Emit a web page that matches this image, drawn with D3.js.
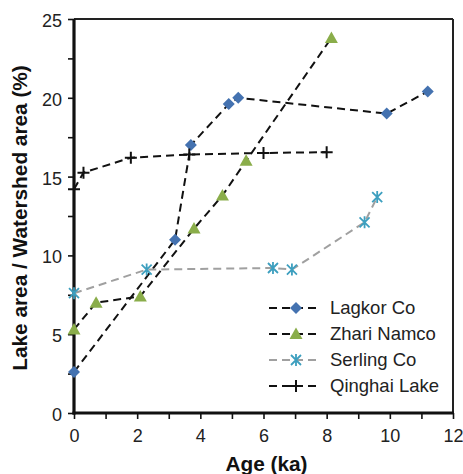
<!DOCTYPE html>
<html><head><meta charset="utf-8">
<script src="https://cdn.jsdelivr.net/npm/d3@7"></script>
<style>body{margin:0;background:#fff}svg{display:block}text{font-family:"Liberation Sans",Arial,Helvetica,sans-serif}</style>
</head><body><svg id="c" width="463" height="474"></svg>
<script>
const seriesNames = ["Lagkor Co","Zhari Namco","Serling Co","Qinghai Lake"];
const lagkorAge = [0,3.2,3.7,4.9,5.2,9.9,11.2];
const lagkorVal = [2.6,11.0,17.0,19.6,20.0,19.0,20.4];
const zhariAge = [0,0.7,2.1,3.8,4.7,5.45,8.15];
const zhariVal = [5.3,7.0,7.4,11.7,13.8,16.0,23.8];
const serlingAge = [0,2.3,6.3,6.9,9.2,9.6];
const serlingVal = [7.6,9.1,9.2,9.1,12.1,13.7];
const qinghaiAge = [0,0.3,1.8,3.65,6.0,8.0];
const qinghaiVal = [14.2,15.25,16.2,16.4,16.5,16.55];
const xTicks = [0,2,4,6,8,10,12];
const yTicks = [0,5,10,15,20,25];

const W=463,H=474,m={l:74,r:10,t:19,b:61};
const svg=d3.select("#c");
const x=d3.scaleLinear().domain([0,12]).range([m.l,W-m.r]);
const y=d3.scaleLinear().domain([0,25]).range([H-m.b,m.t]);

const series=[
 {name:seriesNames[0],a:lagkorAge,v:lagkorVal,marker:"diamond",color:"#4472b0",line:"#111"},
 {name:seriesNames[1],a:zhariAge,v:zhariVal,marker:"triangle",color:"#8aad4a",line:"#111"},
 {name:seriesNames[2],a:serlingAge,v:serlingVal,marker:"star",color:"#3d9fbf",line:"#a0a0a0"},
 {name:seriesNames[3],a:qinghaiAge,v:qinghaiVal,marker:"plus",color:"#111",line:"#111"}
];

// frame top/right
svg.append("line").attr("x1",x(0)).attr("x2",x(12)).attr("y1",y(25)).attr("y2",y(25)).attr("stroke","#222").attr("stroke-width",2);
svg.append("line").attr("x1",x(12)).attr("x2",x(12)).attr("y1",y(25)).attr("y2",y(0)).attr("stroke","#222").attr("stroke-width",2);

const xa=svg.append("g").attr("transform",`translate(0,${y(0)})`)
 .call(d3.axisBottom(x).tickValues(d3.range(0,12.01,1)).tickSize(6).tickPadding(10).tickFormat(d=>xTicks.includes(d)?d:""));
const ya=svg.append("g").attr("transform",`translate(${x(0)},0)`)
 .call(d3.axisLeft(y).tickValues(d3.range(0,25.01,2.5)).tickSize(6).tickPadding(6).tickFormat(d=>yTicks.includes(d)?d:""));
[xa,ya].forEach(g=>{
 g.select(".domain").attr("stroke","#111").attr("stroke-width",3.2);
 g.selectAll(".tick line").attr("stroke","#111").attr("stroke-width",1.6);
 g.selectAll("text").attr("font-size",18).attr("fill","#222");
});
ya.selectAll("text").attr("dy","0.42em");
ya.select(".domain").attr("d",`M0,${y(0)+1.6}V${y(25)}`);
xa.select(".domain").attr("d",`M${x(0)-1.6},0H${x(12)+1}`);

svg.append("text").attr("x",(x(0)+x(12))/2+3).attr("y",H-3).attr("text-anchor","middle")
 .attr("font-size",20.8).attr("font-weight","bold").attr("fill","#111").text("Age (ka)");
svg.append("text").attr("transform",`translate(27,${(y(0)+y(25))/2+2}) rotate(-90)`).attr("text-anchor","middle")
 .attr("font-size",20.8).attr("font-weight","bold").attr("fill","#111").text("Lake area / Watershed area (%)");

function marker(g,type,color){
 if(type==="diamond") g.append("path").attr("d","M0,-6L6,0L0,6L-6,0Z").attr("fill",color);
 else if(type==="triangle") g.append("path").attr("d","M0,-6.5L6.5,5L-6.5,5Z").attr("fill",color);
 else if(type==="star") g.append("path").attr("d","M0,-6V6M-5,-5L5,5M-5,5L5,-5").attr("stroke",color).attr("stroke-width",1.8).attr("fill","none");
 else g.append("path").attr("d","M-6,0H6M0,-6V6").attr("stroke",color).attr("stroke-width",2).attr("fill","none");
}

const line=d3.line().x(d=>x(d[0])).y(d=>y(d[1]));
series.forEach(s=>{
 const pts=s.a.map((a,i)=>[a,s.v[i]]);
 svg.append("path").attr("d",line(pts)).attr("fill","none").attr("stroke",s.line).attr("stroke-width",2).attr("stroke-dasharray","8,5");
});
series.forEach(s=>{
 s.a.forEach((a,i)=>{
  const g=svg.append("g").attr("transform",`translate(${x(a)},${y(s.v[i])})`);
  marker(g,s.marker,s.color);
 });
});

// legend
const lg=svg.append("g");
series.forEach((s,i)=>{
 const yy=308+i*26;
 lg.append("line").attr("x1",269).attr("x2",320).attr("y1",yy).attr("y2",yy).attr("stroke",s.line).attr("stroke-width",2).attr("stroke-dasharray","8,5");
 const g=lg.append("g").attr("transform",`translate(296,${yy})`);
 marker(g,s.marker,s.color);
 lg.append("text").attr("x",330).attr("y",yy).attr("dy","0.35em").attr("font-size",18.5).attr("fill","#222").text(s.name);
});
</script></body></html>
